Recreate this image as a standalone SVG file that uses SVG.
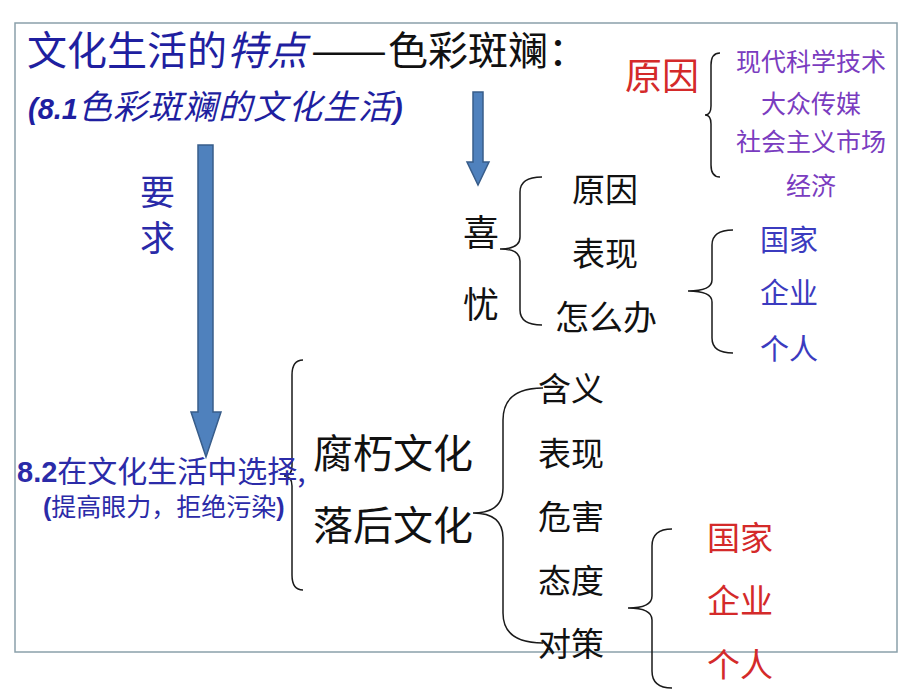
<svg xmlns="http://www.w3.org/2000/svg" width="920" height="690" viewBox="0 0 920 690">
<style>
text{font-family:"Noto Sans CJK SC","Liberation Sans",sans-serif;}
.lat{font-family:"Liberation Sans","Noto Sans CJK SC",sans-serif;font-weight:bold;}
.brace{fill:none;stroke:#1a1a1a;stroke-width:1.5;}
.arrow{fill:#4f81bd;stroke:#385d8a;stroke-width:1.5;}
.blk{fill:#111;}
.red{fill:#d42a2a;}
.pur{fill:#7a3cc0;}
.blu{fill:#3b3bbf;}
.dblu{fill:#1f1fa0;}
</style>
<rect width="920" height="690" fill="#fff"/>
<rect x="15" y="23" width="882" height="629" fill="none" stroke="#8aa0aa" stroke-width="1.5"/>

<g id="title">
<text x="27" y="65" font-size="40"><tspan class="dblu">文化生活的</tspan><tspan class="dblu" font-style="italic">特点</tspan></text>
<text x="311" y="65" font-size="40" class="blk" textLength="76" lengthAdjust="spacingAndGlyphs">——</text>
<text x="388" y="65" font-size="40" class="blk">色彩斑斓：</text>
<text x="28" y="119" font-size="34" font-style="italic" class="dblu" letter-spacing="1"><tspan class="lat" font-size="29" letter-spacing="0">(8.1</tspan>色彩斑斓的文化生活<tspan class="lat" font-size="29">)</tspan></text>
</g>

<g id="connectors">
<polygon class="arrow" points="198,145 213,145 213,412 221,412 206,457 191,412 198,412"/>
<polygon class="arrow" points="473,92 483,92 483,162 489,162 478,185 467,162 473,162"/>
<path class="brace" d="M720,53 Q711,53 711,65 L711,106 Q711,115 705,115 Q711,115 711,124 L711,165 Q711,177 720,177"/>
<path class="brace" d="M542,177 Q520,177 520,192 L520,237 Q520,249 500,249 Q520,249 520,261 L520,310 Q520,325 542,325"/>
<path class="brace" d="M733,230 Q712,230 712,245 L712,280 Q712,291 688,291 Q712,291 712,302 L712,338 Q712,353 733,353"/>
<path class="brace" d="M303,360 Q292,360 292,375 L292,466 Q292,476 284,476 Q292,476 292,486 L292,575 Q292,590 303,590"/>
<path class="brace" d="M543,388 Q503,388 503,420 L503,488 Q503,513 473,513 Q503,513 503,538 L503,613 Q503,643 543,643"/>
<path class="brace" d="M672,529 Q652,529 652,546 L652,596 Q652,608 628,608 Q652,608 652,620 L652,671 Q652,688 672,688"/>
</g>

<g id="reason-top">
<text x="625" y="90" font-size="37" class="red">原因</text>
<text x="811" y="71" font-size="25" class="pur" text-anchor="middle">现代科学技术</text>
<text x="811" y="113" font-size="25" class="pur" text-anchor="middle">大众传媒</text>
<text x="811" y="151" font-size="25" class="pur" text-anchor="middle">社会主义市场</text>
<text x="811" y="195" font-size="25" class="pur" text-anchor="middle">经济</text>
</g>

<g id="xiyou">
<text x="463" y="246" font-size="36" class="blk">喜</text>
<text x="463" y="318" font-size="36" class="blk">忧</text>
</g>

<g id="xiyou-items">
<text x="572" y="202" font-size="33" class="blk">原因</text>
<text x="572" y="266" font-size="33" class="blk">表现</text>
<text x="555" y="330" font-size="34" class="blk">怎么办</text>
</g>

<g id="blue-actors">
<text x="760" y="251" font-size="29" class="blu">国家</text>
<text x="760" y="304" font-size="29" class="blu">企业</text>
<text x="760" y="360" font-size="29" class="blu">个人</text>
</g>

<g id="yaoqiu">
<text x="140" y="205" font-size="35" fill="#2a2aa8">要</text>
<text x="140" y="251" font-size="35" fill="#2a2aa8">求</text>
</g>

<g id="choice">
<text x="17" y="482" font-size="30" fill="#2b2ba8"><tspan class="lat" font-size="29">8.2</tspan>在文化生活中选择,</text>
<text x="43" y="516" font-size="25" fill="#2b2ba8"><tspan class="lat">(</tspan>提高眼力，拒绝污染<tspan class="lat">)</tspan></text>
</g>

<g id="cultures">
<text x="313" y="468" font-size="40" class="blk">腐朽文化</text>
<text x="313" y="540" font-size="40" class="blk">落后文化</text>
</g>

<g id="culture-items">
<text x="538" y="401" font-size="33" class="blk">含义</text>
<text x="538" y="466" font-size="33" class="blk">表现</text>
<text x="538" y="529" font-size="33" class="blk">危害</text>
<text x="538" y="593" font-size="33" class="blk">态度</text>
<text x="538" y="656" font-size="33" class="blk">对策</text>
</g>

<g id="red-actors">
<text x="707" y="550" font-size="33" class="red">国家</text>
<text x="707" y="613" font-size="33" class="red">企业</text>
<text x="707" y="677" font-size="33" class="red">个人</text>
</g>
</svg>
